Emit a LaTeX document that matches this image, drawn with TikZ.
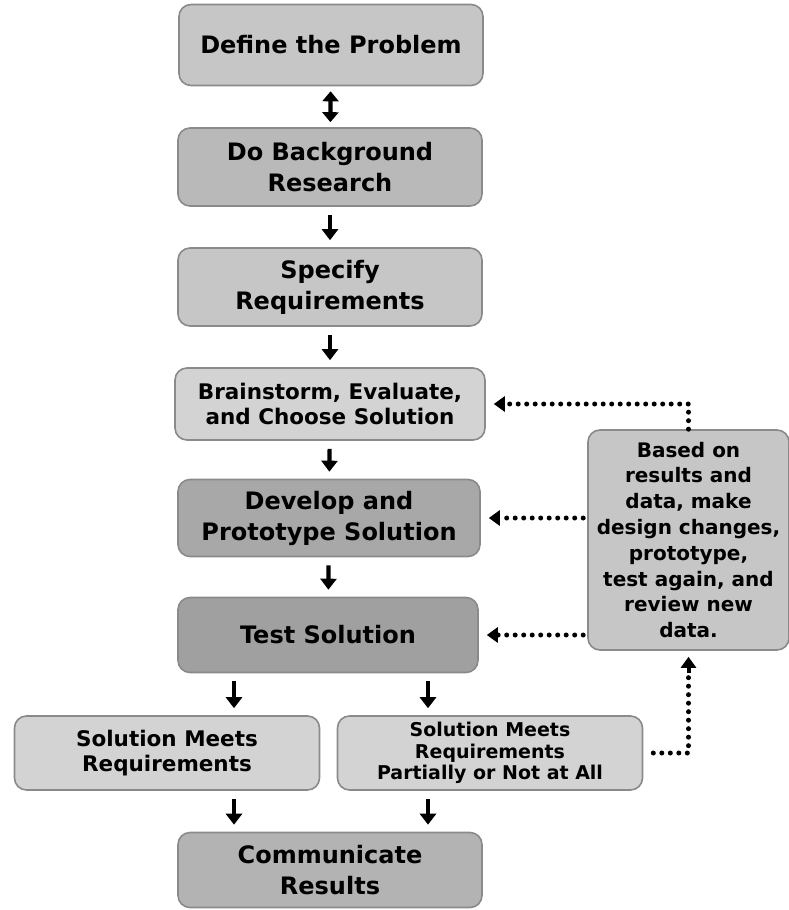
\documentclass[tikz,border=0pt]{standalone}
\usepackage{fontspec}
\setmainfont{DejaVu Sans}
\usetikzlibrary{arrows.meta}

\definecolor{boxline}{HTML}{8A8A8A}
\definecolor{greyA}{HTML}{C6C6C6}
\definecolor{greyB}{HTML}{B9B9B9}
\definecolor{greyC}{HTML}{D3D3D3}
\definecolor{greyD}{HTML}{A8A8A8}
\definecolor{greyE}{HTML}{B3B3B3}

\tikzset{
  stage/.style={draw=boxline, line width=1.6pt, rounded corners=12pt,
    align=center, inner sep=2pt, minimum width=304pt, minimum height=78pt,
    font=\bfseries\fontsize{24}{31}\selectfont},
  minor/.style={font=\bfseries\fontsize{21.5}{25}\selectfont},
  step arrow/.style={-{Triangle[width=16pt,length=11pt]}, line width=4.2pt,
    shorten <=8pt, shorten >=7pt},
  loop back/.style={line width=5pt, line cap=round,
    dash pattern=on 0pt off 8.5pt},
  loop tip/.style={-{Triangle[width=15pt,length=11pt]}, line width=4pt}
}

\begin{document}
\begin{tikzpicture}[x=1pt, y=1pt]
    \useasboundingbox (0,0) rectangle (789,-910);

    % main column
    \node[stage, fill=greyA, minimum height=81pt] (define) at (331,-45) {Define the Problem};
    \node[stage, fill=greyB] (research) at (330,-167) {Do Background\\Research};
    \node[stage, fill=greyA] (specify) at (330,-287) {Specify\\Requirements};
    \node[stage, minor, fill=greyC, minimum width=310pt, minimum height=72pt] (brain) at (330,-404)
        {Brainstorm, Evaluate,\\and Choose Solution};
    \node[stage, fill=greyD, minimum width=302pt, minimum height=77pt] (develop) at (329,-518)
        {Develop and\\Prototype Solution};
    \node[stage, fill=greyD!95!black, minimum width=300pt, minimum height=75pt] (test) at (328,-635)
        {Test Solution};

    % outcomes
    \node[stage, minor, fill=greyC, minimum width=305pt, minimum height=74pt] (meets) at (167,-753)
        {Solution Meets\\Requirements};
    \node[stage, fill=greyC, minimum width=305pt, minimum height=74pt,
        font=\bfseries\fontsize{19}{21.5}\selectfont] (partly) at (490,-753)
        {Solution Meets\\Requirements\\Partially or Not at All};
    \node[stage, fill=greyE, minimum height=75pt] (report) at (330,-870) {Communicate\\Results};

    % feedback box
    \node[stage, fill=greyA, minimum width=201pt, minimum height=220pt,
        font=\bfseries\fontsize{20}{25.8}\selectfont] (redo) at (688.5,-540)
        {Based on\\results and\\data, make\\design changes,\\prototype,\\test again, and\\review new\\data.};

    \coordinate (lcol) at (234,0);
    \coordinate (rcol) at (428,0);

    % forward arrows
    \draw[step arrow, shorten <=5pt, shorten >=5pt,
        {Triangle[width=16pt,length=10pt]}-{Triangle[width=16pt,length=10pt]}]
        (define) -- (research);
    \draw[step arrow] (research) -- (specify);
    \draw[step arrow] (specify) -- (brain);
    \draw[step arrow] (brain) -- (develop);
    \draw[step arrow] (develop) -- (test);
    \draw[step arrow] (lcol |- test.south) -- (lcol |- meets.north);
    \draw[step arrow] (rcol |- test.south) -- (rcol |- partly.north);
    \draw[step arrow] (lcol |- meets.south) -- (lcol |- report.north);
    \draw[step arrow] (rcol |- partly.south) -- (rcol |- report.north);

    % loop back
    \draw[loop back] (redo.north) |- ([xshift=18pt]brain.east);
    \draw[loop back] (redo.west |- develop.east) ++(-4pt,0) -- ([xshift=18pt]develop.east);
    \draw[loop back] (redo.west |- test.east) ++(-4pt,0) -- ([xshift=18pt]test.east);
    \draw[loop back] ([xshift=10pt]partly.east) -| ([yshift=-24pt]redo.south);
    \draw[loop tip] ([xshift=19pt]brain.east) -- ([xshift=8pt]brain.east);
    \draw[loop tip] ([xshift=19pt]develop.east) -- ([xshift=8pt]develop.east);
    \draw[loop tip] ([xshift=19pt]test.east) -- ([xshift=8pt]test.east);
    \draw[loop tip] ([yshift=-22pt]redo.south) -- ([yshift=-6pt]redo.south);
\end{tikzpicture}
\end{document}
